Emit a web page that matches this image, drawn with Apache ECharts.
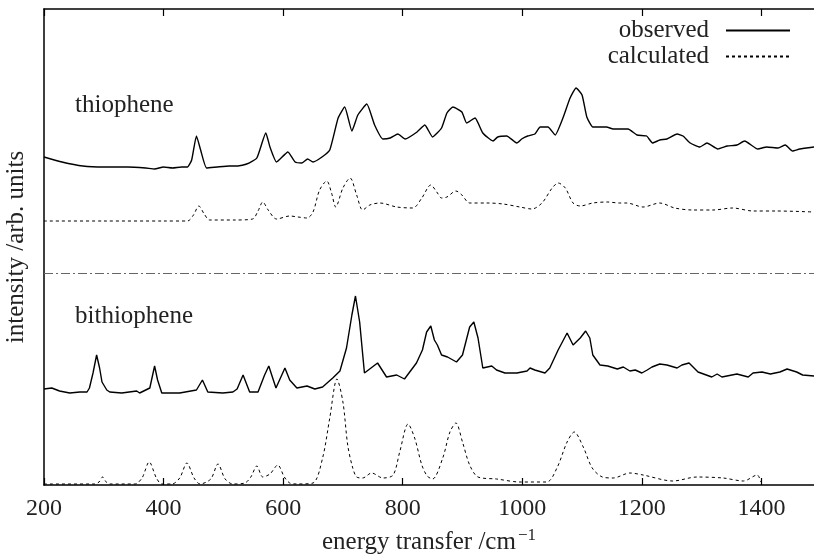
<!DOCTYPE html>
<html>
<head>
<meta charset="utf-8">
<script src="https://cdn.jsdelivr.net/npm/echarts@6/dist/echarts.min.js"></script>
<style>html,body{margin:0;padding:0;background:#fff;overflow:hidden}#c{width:814px;height:556px}</style>
</head>
<body>
<div id="c"></div>
<script>
// ---- data: [energy transfer (cm^-1), intensity (arb. units, offset)] ----
const thiopheneObserved = [[200,328],[230,323],[265,319],[300,318],[340,318],[370,317],[385,316],[400,318],[415,317],[430,318],[440,318],[447,325],[455,349],[462,335],[472,317],[490,318],[510,319],[524,319],[539,321],[556,327],[571,352],[578,338],[589,323],[608,333],[620,323],[631,322],[641,326],[650,323],[665,328],[678,335],[692,367],[703,378],[715,354],[725,370],[740,381],[753,360],[767,346],[779,347],[792,351],[804,346],[824,353],[837,360],[850,348],[865,357],[874,372],[884,378],[899,373],[907,362],[921,367],[934,352],[951,344],[959,348],[974,349],[991,342],[999,346],[1009,349],[1021,351],[1030,358],[1043,358],[1055,350],[1068,367],[1080,387],[1090,397],[1100,390],[1108,368],[1118,358],[1130,358],[1141,358],[1152,356],[1163,356],[1177,356],[1192,350],[1208,349],[1218,342],[1230,345],[1242,346],[1259,351],[1269,349],[1281,342],[1297,338],[1309,342],[1327,336],[1343,339],[1359,340],[1372,344],[1394,336],[1409,338],[1428,337],[1440,340],[1452,334],[1464,336],[1488,338]];
const thiopheneCalculated = [[200,264],[300,264],[400,264],[440,264],[450,270],[459,279],[468,271],[477,265],[520,265],[549,266],[558,274],[566,283],[575,275],[589,266],[611,269],[625,268],[640,267],[650,273],[661,295],[673,304],[681,292],[688,278],[700,297],[712,307],[723,290],[733,275],[745,280],[762,282],[790,278],[817,277],[832,287],[847,300],[857,293],[865,287],[874,288],[889,294],[899,290],[912,282],[941,282],[968,281],[996,278],[1016,276],[1033,282],[1050,297],[1060,302],[1072,297],[1085,282],[1097,279],[1118,282],[1142,283],[1163,282],[1175,282],[1202,278],[1230,282],[1255,277],[1285,275],[1319,275],[1352,277],[1386,274],[1426,274],[1488,273]];
const bithiopheneObserved = [[200,96],[213,97],[226,94],[243,92],[260,93],[272,93],[276,97],[282,112],[288,130],[293,117],[297,103],[300,104],[305,95],[310,93],[330,92],[355,94],[360,92],[377,97],[385,119],[390,105],[397,92],[427,92],[455,95],[465,105],[474,93],[499,92],[516,93],[523,96],[533,110],[544,93],[558,93],[569,110],[576,119],[588,97],[603,117],[611,105],[623,97],[640,99],[653,96],[666,98],[683,107],[695,114],[706,137],[715,170],[721,189],[728,163],[736,112],[758,122],[773,108],[790,110],[803,106],[823,122],[833,135],[840,153],[847,159],[853,145],[858,140],[865,130],[875,128],[890,123],[900,130],[912,158],[919,163],[926,147],[934,117],[949,119],[957,115],[971,112],[991,112],[1008,114],[1013,117],[1021,115],[1038,112],[1046,117],[1060,135],[1075,152],[1085,140],[1097,147],[1106,154],[1113,147],[1118,130],[1130,120],[1143,119],[1159,116],[1169,118],[1180,114],[1189,115],[1200,112],[1209,115],[1217,118],[1230,121],[1242,120],[1259,117],[1267,120],[1279,122],[1294,113],[1317,108],[1326,111],[1334,108],[1359,111],[1378,108],[1386,112],[1401,113],[1415,111],[1431,113],[1443,116],[1459,113],[1469,110],[1488,109]];
const bithiopheneCalculated = [[200,1],[285,1],[292,3],[298,8],[304,3],[310,1],[352,1],[364,7],[376,23],[388,7],[397,1],[414,1],[427,7],[439,22],[451,7],[461,1],[479,6],[491,21],[503,6],[516,1],[536,2],[546,8],[556,19],[566,8],[578,11],[591,20],[602,8],[611,2],[623,1],[650,2],[666,27],[678,67],[690,106],[700,83],[708,40],[716,18],[723,8],[733,7],[748,12],[767,7],[784,10],[795,33],[809,61],[820,47],[832,20],[841,9],[850,6],[867,27],[879,53],[889,62],[900,43],[912,20],[926,8],[957,6],[996,3],[1041,3],[1058,17],[1075,43],[1087,53],[1102,38],[1117,17],[1134,8],[1152,7],[1180,12],[1202,10],[1252,4],[1292,8],[1336,7],[1370,4],[1393,10],[1399,3]];
const separatorLevel = 212;
const xTicks = [200, 400, 600, 800, 1000, 1200, 1400];
const seriesNames = ['observed', 'calculated'];
const panelLabels = ['thiophene', 'bithiophene'];
const xRange = [200, 1488];
const yRange = [0, 476];
const xTitle = 'energy transfer /cm';
const xTitleSup = '\u22121';
const yTitle = 'intensity /arb. units';

// ---- chart ----
const FONT = '"Liberation Serif", "DejaVu Serif", serif';
const chart = echarts.init(document.getElementById('c'), null, {renderer: 'canvas'});
const solid = {color: '#000', width: 1.4, type: 'solid'};
const dotted = {color: '#000', width: 1, type: [3, 3]};
const tickStyle = {show: true, inside: true, length: 7, customValues: xTicks, lineStyle: {color: '#000', width: 1.2}};
const axisCommon = {
  type: 'value', min: xRange[0], max: xRange[1], interval: 200,
  splitLine: {show: false},
  axisLine: {show: true, lineStyle: {color: '#000', width: 1.5}},
  axisTick: tickStyle
};
chart.setOption({
  animation: false,
  backgroundColor: '#fff',
  grid: {left: 44, top: 9, right: 0, bottom: 71, containLabel: false, outerBoundsMode: 'none'},
  legend: {
    data: seriesNames, orient: 'vertical', align: 'right', right: 23, top: 18, padding: 0,
    itemWidth: 64, itemHeight: 14, itemGap: 1,
    itemStyle: {color: 'rgba(0,0,0,0)', borderColor: 'rgba(0,0,0,0)', borderWidth: 0, opacity: 0},
    textStyle: {fontFamily: FONT, fontSize: 25, lineHeight: 22, color: '#222', padding: [0, 12, 0, 0]},
    selectedMode: false
  },
  xAxis: [
    Object.assign({}, axisCommon, {
      position: 'bottom',
      axisLabel: {show: true, margin: 12, fontFamily: FONT, fontSize: 24, color: '#222',
        customValues: xTicks, formatter: v => String(v)},
      name: xTitle + '{sup|' + xTitleSup + '}', nameLocation: 'middle', nameGap: 42,
      nameTextStyle: {fontFamily: FONT, fontSize: 25, color: '#222',
        rich: {sup: {fontFamily: FONT, fontSize: 17, color: '#222', verticalAlign: 'top', padding: [0, 0, 14, 2]}}}
    }),
    Object.assign({}, axisCommon, {
      position: 'top',
      axisLabel: {show: false}
    })
  ],
  yAxis: {
    type: 'value', min: yRange[0], max: yRange[1],
    axisLine: {show: true, lineStyle: {color: '#000', width: 1.5}},
    axisTick: {show: false}, axisLabel: {show: false}, splitLine: {show: false},
    name: yTitle, nameLocation: 'middle', nameGap: 15,
    nameTextStyle: {fontFamily: FONT, fontSize: 25, color: '#222'}
  },
  graphic: [
    {type: 'text', left: 75, top: 93, style: {text: panelLabels[0], font: '25px ' + FONT, fill: '#222'}},
    {type: 'text', left: 75, top: 304, style: {text: panelLabels[1], font: '25px ' + FONT, fill: '#222'}}
  ],
  series: [
    {name: seriesNames[0], type: 'line', data: thiopheneObserved, symbol: 'none', smooth: 0.15, lineStyle: solid, itemStyle: {color: '#000'},
     markLine: {silent: true, symbol: 'none', label: {show: false},
       lineStyle: {color: '#666', width: 1, type: [9, 3, 2, 3]}, data: [{yAxis: separatorLevel}]}},
    {name: seriesNames[1], type: 'line', data: thiopheneCalculated, symbol: 'none', smooth: 0.3, lineStyle: dotted, itemStyle: {color: '#000'}},
    {name: seriesNames[0], type: 'line', data: bithiopheneObserved, symbol: 'none', lineStyle: solid, itemStyle: {color: '#000'}},
    {name: seriesNames[1], type: 'line', data: bithiopheneCalculated, symbol: 'none', smooth: 0.3, lineStyle: dotted, itemStyle: {color: '#000'}}
  ]
});
</script>
</body>
</html>
